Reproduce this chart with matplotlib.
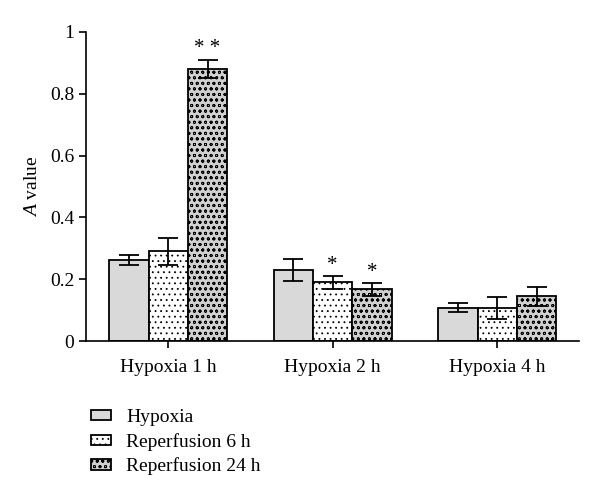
import matplotlib.pyplot as plt
import numpy as np

plt.rcParams['font.family'] = ['Liberation Serif', 'DejaVu Serif']
plt.rcParams['mathtext.fontset'] = 'custom'
plt.rcParams['mathtext.it'] = 'Liberation Serif:italic'
plt.rcParams['mathtext.rm'] = 'Liberation Serif'
plt.rcParams['hatch.linewidth'] = 0.6

groups = ['Hypoxia 1 h', 'Hypoxia 2 h', 'Hypoxia 4 h']
series = ['Hypoxia', 'Reperfusion 6 h', 'Reperfusion 24 h']
hypoxia = [0.262, 0.23, 0.108]
hypoxia_err = [0.017, 0.035, 0.015]
rep6 = [0.29, 0.19, 0.108]
rep6_err = [0.043, 0.02, 0.035]
rep24 = [0.88, 0.167, 0.145]
rep24_err = [0.03, 0.02, 0.03]
stars6 = ['', '*', '']
stars24 = ['**', '*', '']

fig = plt.figure(figsize=(6, 4.98), dpi=100)
ax = fig.add_axes([0.1433, 0.315, 0.8225, 0.621])

x = np.arange(len(groups))
w = 0.239
styles = [dict(facecolor='#d9d9d9', hatch=None),
          dict(facecolor='white', hatch='...'),
          dict(facecolor='#d0d0d0', hatch='ooo')]
vals = [hypoxia, rep6, rep24]
errs = [hypoxia_err, rep6_err, rep24_err]

for i in range(3):
    ax.bar(x + (i - 1) * w, vals[i], w, yerr=errs[i], edgecolor='black',
           linewidth=1.3, capsize=7, error_kw=dict(elinewidth=1.3, capthick=1.3),
           label=series[i], **styles[i])

for i, s in enumerate(stars6):
    if s:
        ax.text(x[i], rep6[i] + rep6_err[i] + 0.004, s, ha='center', va='bottom', fontsize=15)
for i, s in enumerate(stars24):
    if s:
        ax.text(x[i] + w, rep24[i] + rep24_err[i] + 0.004, s.replace('**', '* *'),
                ha='center', va='bottom', fontsize=15)

ax.set_xlim(-0.5, 2.5)
ax.set_ylim(0, 1)
ax.set_yticks([0, 0.2, 0.4, 0.6, 0.8, 1])
ax.set_yticklabels(['0', '0.2', '0.4', '0.6', '0.8', '1'])
ax.set_xticks(x)
ax.set_xticklabels(groups)
ax.tick_params(labelsize=14, width=1.2, length=5)
ax.tick_params(axis='x', pad=8)
ax.spines['top'].set_visible(False)
ax.spines['right'].set_visible(False)
ax.spines['left'].set_linewidth(1.2)
ax.spines['bottom'].set_linewidth(1.2)
ax.set_ylabel(r'$A$ value', fontsize=14, labelpad=6)

leg = ax.legend(loc='upper left', bbox_to_anchor=(-0.025, -0.163), frameon=False,
                fontsize=14, handlelength=1.0, handleheight=0.45, labelspacing=0.35,
                handletextpad=0.8)

fig.savefig('out.png', dpi=100)
